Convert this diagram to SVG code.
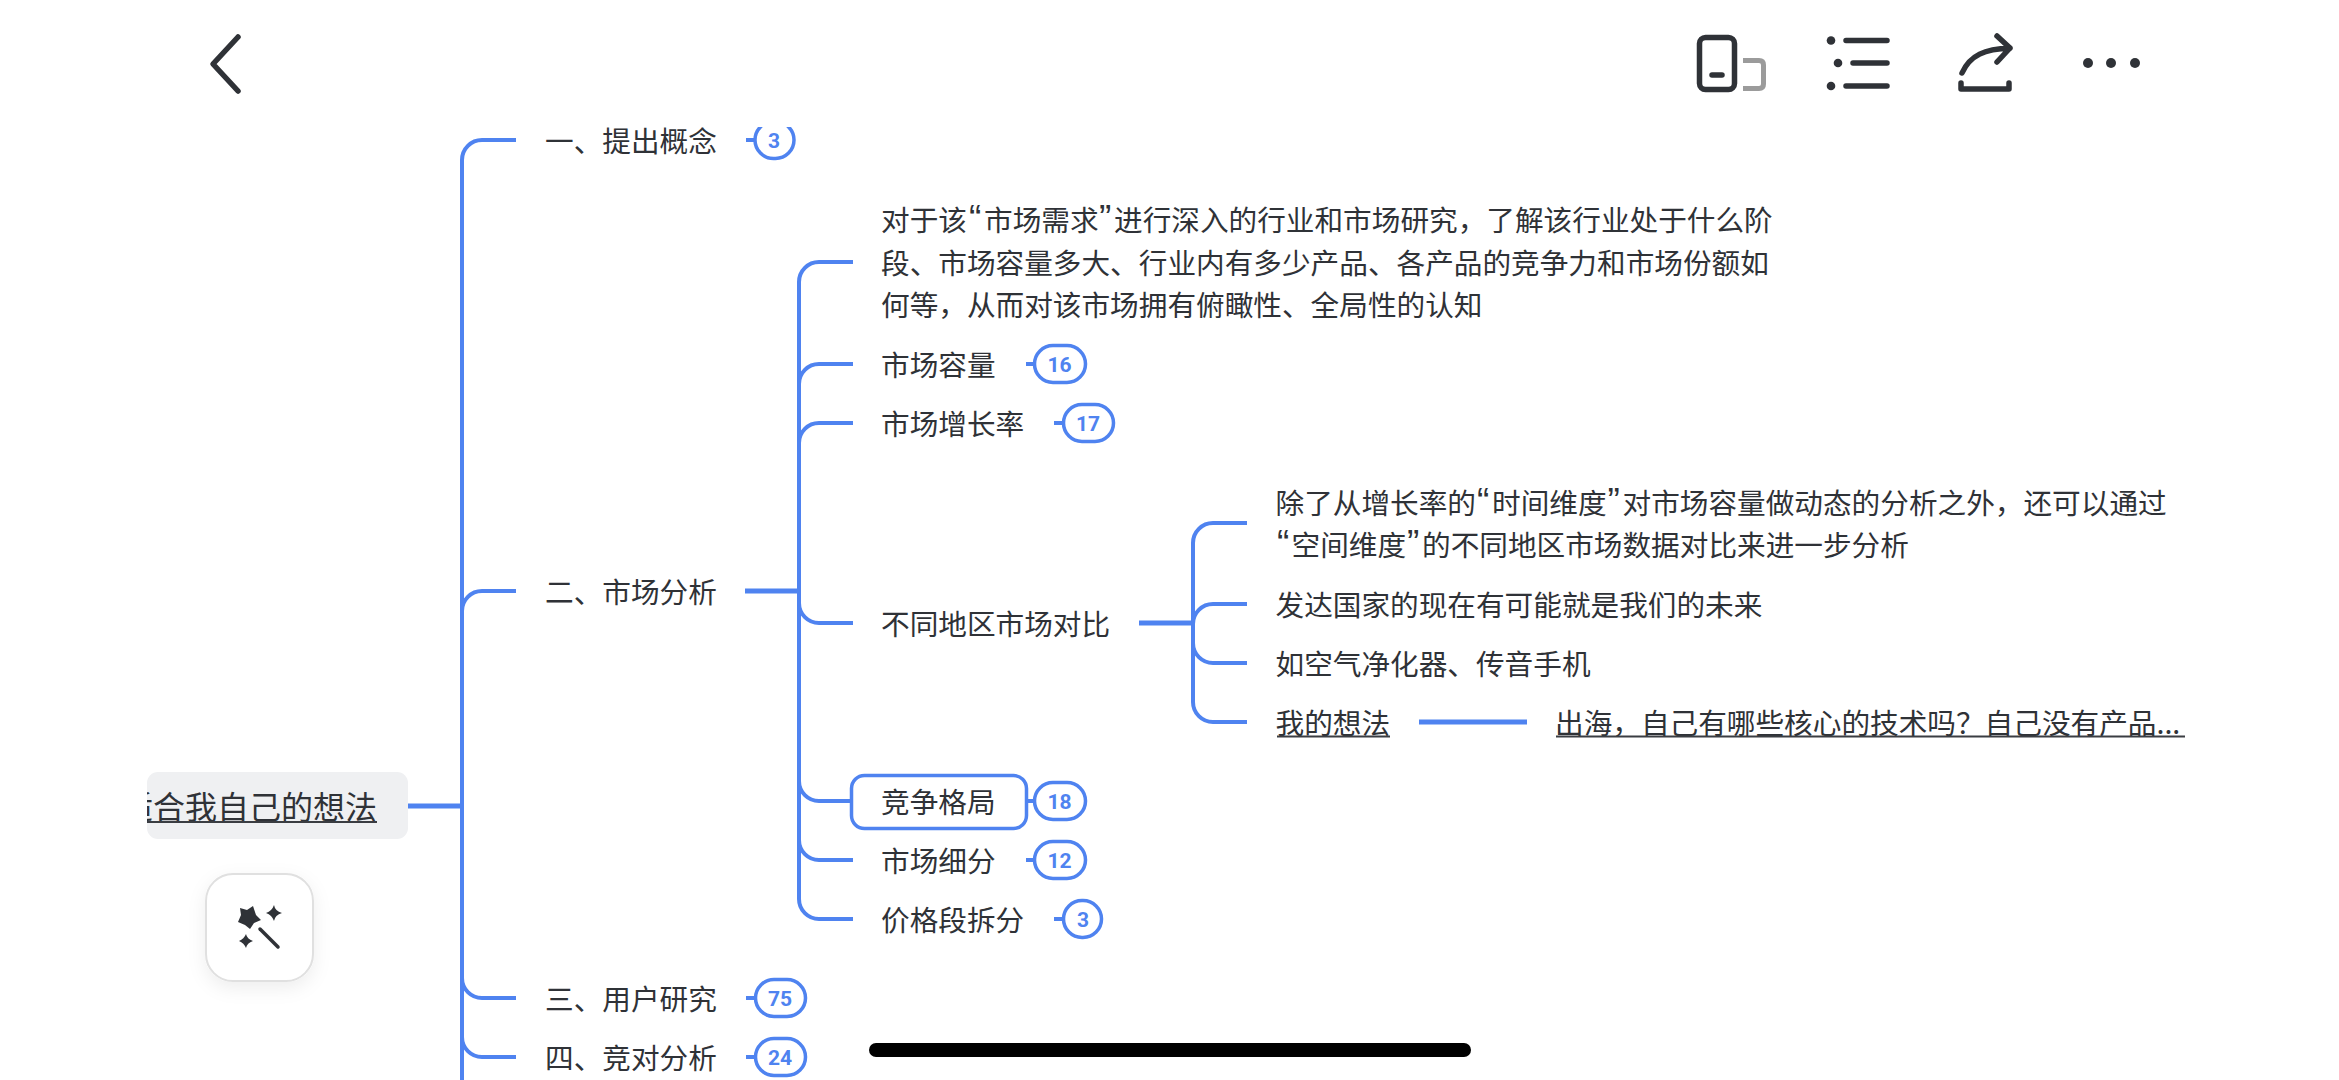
<svg xmlns="http://www.w3.org/2000/svg" width="2339" height="1080" viewBox="0 0 2339 1080">
<style>
text{font-family:"Noto Sans CJK SC","Noto Sans",sans-serif;fill:#2f3237;font-size:28.65px}
.q{font-family:"Liberation Sans","Noto Sans CJK SC",sans-serif;font-size:37px}
.con{fill:none;stroke:#4f83f0;stroke-width:4}
.thick{fill:none;stroke:#4f83f0;stroke-width:5}
.badge{fill:#fff;stroke:#4f83f0;stroke-width:3.5}
.num{font-family:Roboto,"Liberation Sans",sans-serif;font-weight:700;font-size:21px;fill:#4f83f0;text-anchor:middle}
.ul{stroke:#3a3d42;stroke-width:2}
.ic{fill:none;stroke:#2f3237;stroke-width:5.5;stroke-linecap:round;stroke-linejoin:round}
.dot{fill:#2f3237}
</style>
<defs>
<clipPath id="topclip"><rect x="0" y="127" width="2339" height="953"/></clipPath>
<clipPath id="rootclip"><rect x="147" y="772" width="261" height="67"/></clipPath>
<filter id="soft" x="-30%" y="-30%" width="160%" height="170%"><feDropShadow dx="0" dy="6" stdDeviation="9" flood-color="#000" flood-opacity="0.07"/></filter>
</defs>
<rect width="2339" height="1080" fill="#fff"/>

<g id="connectors">
<path class="thick" d="M408 806H462"/>
<path class="con" d="M462 1080V160A20 20 0 0 1 482 140H516"/>
<path class="con" d="M462 611A20 20 0 0 1 482 591H516"/>
<path class="con" d="M462 978A20 20 0 0 0 482 998H516"/>
<path class="con" d="M462 1037A20 20 0 0 0 482 1057H516"/>
<path class="thick" d="M745 591H799"/>
<path class="con" d="M853 262H819A20 20 0 0 0 799 282V899A20 20 0 0 0 819 919H853"/>
<path class="con" d="M799 384A20 20 0 0 1 819 364H853"/>
<path class="con" d="M799 443A20 20 0 0 1 819 423H853"/>
<path class="con" d="M799 603A20 20 0 0 0 819 623H853"/>
<path class="con" d="M799 781A20 20 0 0 0 819 801H851"/>
<path class="con" d="M799 840A20 20 0 0 0 819 860H853"/>
<path class="thick" d="M1139 623H1193"/>
<path class="con" d="M1247 523H1213A20 20 0 0 0 1193 543V702A20 20 0 0 0 1213 722H1247"/>
<path class="con" d="M1193 624A20 20 0 0 1 1213 604H1247"/>
<path class="con" d="M1193 643A20 20 0 0 0 1213 663H1247"/>
<path class="thick" d="M1419 722H1527"/>
<path class="con" d="M746 140H754M1026 364H1033M1054 423H1062M1027 801H1034M1026 860H1034M1054 919H1062M746 998H754M746 1057H754"/>
</g>

<g id="node-root">
<rect x="147" y="772" width="261" height="67" rx="11" fill="#eff0f2"/>
<text x="121" y="819" style="font-size:32px" clip-path="url(#rootclip)">适合我自己的想法</text>
<path class="ul" d="M147 822H377"/>
</g>

<g id="node-1"><text x="545" y="151.5">一、提出概念</text>
<g clip-path="url(#topclip)"><rect class="badge" x="755" y="121.5" width="39" height="37" rx="18.5"/></g>
<text class="num" x="774" y="147.500">3</text></g>

<g id="node-2"><text x="545" y="602.5">二、市场分析</text></g>

<g id="node-2-1"><text x="881" y="231">对于该<tspan class="q" x="969">“</tspan><tspan x="984">市场需求</tspan><tspan class="q" x="1099">”</tspan><tspan x="1114">进行深入的行业和市场研究&#65292;了解该行业处于什么阶</tspan></text>
<text x="881" y="273.5">段、市场容量多大、行业内有多少产品、各产品的竞争力和市场份额如</text>
<text x="881" y="316">何等&#65292;从而对该市场拥有俯瞰性、全局性的认知</text></g>

<g id="node-2-2"><text x="881" y="375.5">市场容量</text>
<rect class="badge" x="1034.500" y="345.500" width="51" height="37" rx="18.5"/><text class="num" x="1059.500" y="371.500">16</text></g>

<g id="node-2-3"><text x="881" y="434.5">市场增长率</text>
<rect class="badge" x="1063.500" y="404.500" width="50" height="37" rx="18.5"/><text class="num" x="1088" y="430.500">17</text></g>

<g id="node-2-4"><text x="881" y="634.5">不同地区市场对比</text></g>

<g id="node-2-4-1"><text x="1275.500" y="513.5">除了从增长率的<tspan class="q" x="1477">“</tspan><tspan x="1492">时间维度</tspan><tspan class="q" x="1607.500">”</tspan><tspan x="1622.500">对市场容量做动态的分析之外&#65292;还可以通过</tspan></text>
<text x="1275.500" y="556"><tspan class="q" x="1277">“</tspan><tspan x="1291.500">空间维度</tspan><tspan class="q" x="1407">”</tspan><tspan x="1422">的不同地区市场数据对比来进一步分析</tspan></text></g>
<g id="node-2-4-2"><text x="1275.500" y="615.5">发达国家的现在有可能就是我们的未来</text></g>
<g id="node-2-4-3"><text x="1275.500" y="674.5">如空气净化器、传音手机</text></g>
<g id="node-2-4-4"><text x="1275.500" y="733.5">我的想法</text><path class="ul" d="M1277 736.500H1390"/></g>
<g id="node-2-4-4-1"><text x="1555" y="733.5">出海&#65292;自己有哪些核心的技术吗&#65311;自己没有产品...</text><path class="ul" d="M1556 736.500H2185"/></g>

<g id="node-2-5"><rect x="851.500" y="775.500" width="175" height="53" rx="13" fill="#fff" stroke="#4f83f0" stroke-width="3.500"/>
<text x="881" y="812.5">竞争格局</text>
<rect class="badge" x="1034.500" y="782.500" width="51" height="37" rx="18.5"/><text class="num" x="1059.500" y="808.500">18</text></g>

<g id="node-2-6"><text x="881" y="871.5">市场细分</text>
<rect class="badge" x="1034.500" y="841.500" width="51" height="37" rx="18.5"/><text class="num" x="1059.500" y="867.500">12</text></g>

<g id="node-2-7"><text x="881" y="930.5">价格段拆分</text>
<rect class="badge" x="1063.500" y="900.500" width="38" height="37" rx="18.5"/><text class="num" x="1083" y="926.500">3</text></g>

<g id="node-3"><text x="545" y="1009.5">三、用户研究</text>
<rect class="badge" x="755.500" y="979.500" width="50" height="37" rx="18.5"/><text class="num" x="780" y="1005.500">75</text></g>

<g id="node-4"><text x="545" y="1068.5">四、竞对分析</text>
<rect class="badge" x="755.500" y="1038.500" width="50" height="37" rx="18.5"/><text class="num" x="780" y="1064.500">24</text></g>

<g id="ui-back"><path class="ic" d="M238 37L213 64L238 91"/></g>
<g id="ui-phone"><rect class="ic" x="1699.500" y="37.500" width="35" height="52" rx="6"/><path class="ic" d="M1712 75H1722"/>
<path fill="none" stroke="#9b9b9b" stroke-width="5" d="M1743 60.500H1759Q1763.500 60.500 1763.500 65V84Q1763.500 88.500 1759 88.500H1743"/></g>
<g id="ui-list"><circle class="dot" cx="1831" cy="40.500" r="4.300"/><circle class="dot" cx="1838" cy="63" r="4.300"/><circle class="dot" cx="1831" cy="86" r="4.300"/>
<path class="ic" d="M1846 40.500H1887M1853 63H1887M1846 86H1887"/></g>
<g id="ui-share"><path class="ic" d="M1962 73C1970 55 1985 49 2010 48M1997 36L2010 48L1997 62M1961 83V89H2009V83"/></g>
<g id="ui-more"><circle class="dot" cx="2088" cy="63" r="5"/><circle class="dot" cx="2111" cy="63" r="5"/><circle class="dot" cx="2135" cy="63" r="5"/></g>

<g id="ui-wand"><rect x="206" y="874" width="107" height="107" rx="27" fill="#fff" stroke="#e0e0e0" stroke-width="2" filter="url(#soft)"/>
<polygon class="dot" points="253,906 256,915 261,920 254,923 250,929 245,925 238,922 241,915 240,908 247,910"/>
<path class="dot" d="M274 905Q275 911 282 913Q275 915 274 921Q272 915 266 913Q272 911 274 905ZM246 934Q247 939 253 941Q247 943 246 948Q244 943 239 941Q244 939 246 934Z"/>
<path fill="none" stroke="#2f3237" stroke-width="3.500" stroke-linecap="round" d="M260 929L278 947"/></g>

<rect id="ui-home" x="869" y="1043" width="602" height="14" rx="7" fill="#000"/>
</svg>
